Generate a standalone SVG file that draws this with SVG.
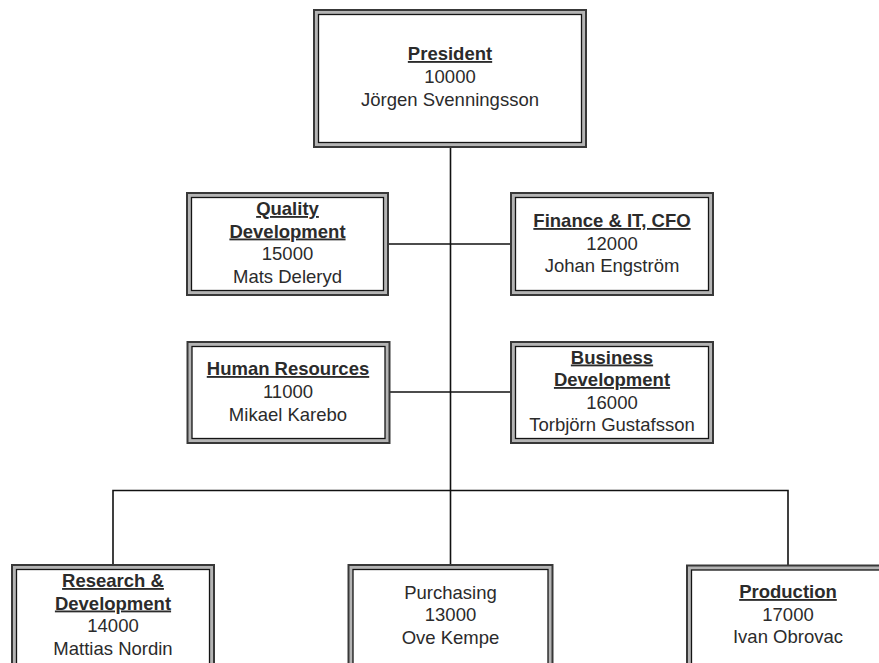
<svg xmlns="http://www.w3.org/2000/svg" width="879" height="663" viewBox="0 0 879 663">
  <style>
    .frame { fill: #b4b4b4; stroke: #383838; stroke-width: 2; }
    .inner { fill: #ffffff; stroke: #141414; stroke-width: 1.3; }
    .lbl { font-family: "Liberation Sans", Arial, sans-serif; font-size: 18.5px; fill: #2b2b2b; text-anchor: middle; }
    .head { font-weight: bold; text-decoration: underline; }
    .wire { fill: none; stroke: #111111; stroke-width: 1.6; }
  </style>

  <!-- connectors -->
  <g id="connectors">
    <path class="wire" d="M450.5 147 V565"/>
    <path class="wire" d="M388 244 H511"/>
    <path class="wire" d="M389.5 392 H511"/>
    <path class="wire" d="M113 565 V490.5 H788 V565.5"/>
  </g>

  <!-- President -->
  <g id="president">
    <rect class="frame" x="314" y="10" width="272" height="137"/>
    <rect class="inner" x="318.5" y="14.5" width="263" height="128"/>
    <text class="lbl head" x="450" y="60">President</text>
    <text class="lbl" x="450" y="83">10000</text>
    <text class="lbl" x="450" y="106">Jörgen Svenningsson</text>
  </g>

  <!-- Quality Development -->
  <g id="quality">
    <rect class="frame" x="187" y="193" width="201" height="102"/>
    <rect class="inner" x="191.5" y="197.5" width="192" height="93"/>
    <text class="lbl head" x="287.5" y="215">Quality</text>
    <text class="lbl head" x="287.5" y="237.5">Development</text>
    <text class="lbl" x="287.5" y="260">15000</text>
    <text class="lbl" x="287.5" y="282.5">Mats Deleryd</text>
  </g>

  <!-- Finance & IT -->
  <g id="finance">
    <rect class="frame" x="511" y="193" width="202" height="102"/>
    <rect class="inner" x="515.5" y="197.5" width="193" height="93"/>
    <text class="lbl head" x="612" y="227">Finance &amp; IT, CFO</text>
    <text class="lbl" x="612" y="249.5">12000</text>
    <text class="lbl" x="612" y="272">Johan Engström</text>
  </g>

  <!-- Human Resources -->
  <g id="hr">
    <rect class="frame" x="187.5" y="342" width="202" height="101"/>
    <rect class="inner" x="192" y="346.5" width="193" height="92"/>
    <text class="lbl head" x="288" y="375">Human Resources</text>
    <text class="lbl" x="288" y="398">11000</text>
    <text class="lbl" x="288" y="421">Mikael Karebo</text>
  </g>

  <!-- Business Development -->
  <g id="business">
    <rect class="frame" x="511" y="342" width="202" height="101"/>
    <rect class="inner" x="515.5" y="346.5" width="193" height="92"/>
    <text class="lbl head" x="612" y="363.5">Business</text>
    <text class="lbl head" x="612" y="386">Development</text>
    <text class="lbl" x="612" y="408.5">16000</text>
    <text class="lbl" x="612" y="431">Torbjörn Gustafsson</text>
  </g>

  <!-- Research & Development -->
  <g id="research">
    <rect class="frame" x="12" y="565" width="202" height="120"/>
    <rect class="inner" x="16.5" y="569.5" width="193" height="111"/>
    <text class="lbl head" x="113" y="587">Research &amp;</text>
    <text class="lbl head" x="113" y="609.5">Development</text>
    <text class="lbl" x="113" y="632">14000</text>
    <text class="lbl" x="113" y="655">Mattias Nordin</text>
  </g>

  <!-- Purchasing -->
  <g id="purchasing">
    <rect class="frame" x="348.5" y="565" width="204" height="120"/>
    <rect class="inner" x="353" y="569.5" width="195" height="111"/>
    <text class="lbl" x="450.5" y="598.5">Purchasing</text>
    <text class="lbl" x="450.5" y="621">13000</text>
    <text class="lbl" x="450.5" y="643.5">Ove Kempe</text>
  </g>

  <!-- Production -->
  <g id="production">
    <rect class="frame" x="687" y="565.5" width="202" height="120"/>
    <rect class="inner" x="691.5" y="570" width="193" height="111"/>
    <text class="lbl head" x="788" y="598">Production</text>
    <text class="lbl" x="788" y="620.5">17000</text>
    <text class="lbl" x="788" y="643">Ivan Obrovac</text>
  </g>
</svg>
